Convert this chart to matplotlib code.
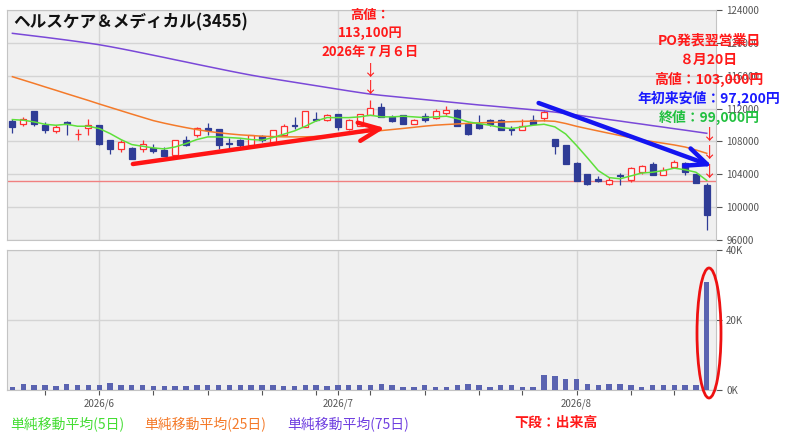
import matplotlib
matplotlib.use('Agg')
import matplotlib.pyplot as plt
from matplotlib.patches import Ellipse
import numpy as np
import pandas as pd

plt.rcParams['font.family'] = ['Noto Sans CJK JP', 'DejaVu Sans']

# ---------------- data ----------------
title = 'ヘルスケア＆メディカル(3455)'
holidays = ['2026-07-20', '2026-08-11']
dates = [d for d in pd.bdate_range('2026-05-20', '2026-08-20') if d.strftime('%Y-%m-%d') not in holidays]

opens = [110460, 110090, 111680, 109970, 109240, 110380, 108880, 109610, 109970, 108230,
         107050, 107170, 107090, 107210, 106930, 106400, 108140, 108790, 109650, 109480,
         107820, 108230, 107620, 108710, 107980, 108790, 109970, 109770, 110780, 110580,
         111310, 109570, 109930, 111270, 112160, 110990, 111190, 110170, 111070, 110900,
         111470, 111880, 110090, 110090, 110580, 110580, 109570, 109440, 110580, 110860,
         108350, 107620, 105430, 104090, 103480, 102790, 103960, 103300, 104290, 105220,
         103960, 104900, 105390, 104090, 102700]
highs = [110780, 110990, 111680, 110380, 109970, 110460, 109570, 110740, 109970, 108230,
         108140, 107330, 108140, 107740, 107330, 108140, 108670, 109770, 110300, 109480,
         108470, 108350, 108790, 108790, 109440, 110090, 110990, 111680, 111590, 111390,
         111310, 110780, 111390, 113100, 112730, 111190, 111190, 110700, 111470, 112000,
         112280, 112000, 110380, 111190, 110780, 110780, 109850, 110780, 111190, 111800,
         108350, 107620, 105510, 104090, 103760, 103680, 104170, 104900, 105100, 105510,
         104900, 105710, 105510, 104090, 103000]
lows = [109080, 109930, 109930, 109040, 109040, 108790, 108140, 108840, 107580, 106440,
        106720, 105870, 106720, 106640, 106240, 106400, 107460, 108550, 108750, 107050,
        107130, 107330, 107330, 107940, 107980, 108790, 109570, 109770, 110460, 110500,
        109360, 109360, 109930, 111270, 110990, 110380, 110090, 110090, 110380, 110780,
        111190, 109850, 108750, 109570, 109850, 109360, 108840, 109360, 110090, 110500,
        106520, 105300, 103150, 102670, 103070, 102750, 102670, 103070, 104090, 103960,
        103880, 104820, 103880, 102950, 97200]
closes = [109770, 110700, 110170, 109360, 109770, 110090, 108960, 110010, 107660, 107090,
          107940, 105870, 107740, 106850, 106240, 108140, 107620, 109610, 109360, 107620,
          107700, 107540, 108790, 108140, 109440, 109930, 109850, 111680, 110660, 111270,
          109770, 110580, 111390, 112120, 110990, 110500, 110090, 110580, 110580, 111680,
          111880, 109850, 108880, 109650, 110170, 109360, 109440, 109850, 110170, 111590,
          107460, 105300, 103150, 102870, 103150, 103270, 103840, 104780, 104980, 103960,
          104490, 105510, 104290, 102950, 99000]
volumes = [860, 1700, 1250, 1250, 960, 1700, 1400, 1250, 1400, 1800,
           1400, 1400, 1250, 960, 960, 960, 960, 1400, 1400, 1250,
           1250, 1250, 1400, 1250, 1250, 960, 960, 1250, 1400, 960,
           1400, 1400, 1250, 1150, 1440, 1150, 860, 860, 1150, 860,
           860, 1150, 1440, 1150, 580, 1150, 1150, 860, 860, 4300,
           3750, 2900, 2900, 1440, 1150, 1440, 1440, 1150, 860, 1150,
           1150, 1150, 1150, 1150, 30800]
ma5 = [110660, 110580, 110380, 110090, 109970, 110090, 109850, 109850, 109570, 108960,
       108230, 107620, 107410, 107210, 107090, 107330, 107740, 108230, 108550, 108550,
       108470, 108390, 108230, 108150, 108470, 108880, 109280, 109850, 110500, 110900,
       110900, 110900, 110990, 111190, 110990, 110990, 111070, 110990, 110900, 110990,
       111070, 110780, 110380, 110170, 109970, 109690, 109570, 109770, 109970, 110090,
       109770, 108900, 107500, 106000, 104450, 103600, 103450, 103800, 104150, 104250,
       104450, 104750, 104550, 104250, 103250]
ma25 = [115880, 115470, 115060, 114640, 114230, 113810, 113400, 112990, 112560, 112150,
        111740, 111330, 110930, 110530, 110220, 109940, 109680, 109440, 109230, 109060,
        108920, 108800, 108720, 108640, 108590, 108560, 108550, 108560, 108600, 108680,
        108800, 108930, 109060, 109180, 109320, 109450, 109580, 109720, 109860, 109980,
        110060, 110130, 110200, 110260, 110310, 110360, 110400, 110440, 110480, 110510,
        110450, 110180, 109840, 109550, 109270, 108990, 108720, 108450, 108190, 107980,
        107780, 107570, 107320, 106960, 106550]
ma75 = [121160, 121000, 120840, 120680, 120510, 120340, 120160, 119970, 119770, 119540,
        119290, 119030, 118760, 118490, 118220, 117940, 117670, 117390, 117120, 116850,
        116580, 116320, 116070, 115840, 115620, 115410, 115200, 114990, 114780, 114570,
        114360, 114150, 113950, 113760, 113610, 113480, 113350, 113220, 113090, 112960,
        112830, 112700, 112570, 112440, 112330, 112210, 112090, 111970, 111850, 111720,
        111570, 111400, 111220, 111030, 110850, 110660, 110480, 110290, 110110, 109920,
        109740, 109550, 109370, 109180, 108990]
ref_line = 103200
price_ticks = [96000, 100000, 104000, 108000, 112000, 116000, 120000, 124000]
vol_ticks = [0, 20000, 40000]
vol_tick_labels = ['0K', '20K', '40K']
legend_labels = ['単純移動平均(5日)', '単純移動平均(25日)', '単純移動平均(75日)']

# ---------------- derived ----------------
n = len(closes)
k = np.arange(n)
o = np.array(opens); c = np.array(closes); h = np.array(highs); l = np.array(lows)
up = c >= o
month_pos = [i for i in range(1, n) if dates[i].month != dates[i - 1].month]
month_labels = [dates[i].strftime('%Y/') + str(dates[i].month) for i in month_pos]
week_pos = [i for i in range(1, n) if dates[i].isocalendar()[1] != dates[i - 1].isocalendar()[1]]

W, H = 803, 442
fig = plt.figure(figsize=(W / 100, H / 100), dpi=100)
fx = lambda x: x / W
fy = lambda y: 1 - y / H

BG = '#f0f0f0'; GRID = '#d4d4d4'; EDGE = '#c4c4c4'; TXT = '#555555'
DOWN = '#2f3c96'; UPC = '#ff3030'

ax = fig.add_axes([fx(7), fy(240), (716 - 7) / W, (240 - 10) / H])
axv = fig.add_axes([fx(7), fy(389.5), (716 - 7) / W, (389.5 - 250) / H])

for a in (ax, axv):
    a.set_facecolor(BG)
    for s in a.spines.values():
        s.set_color(EDGE)
    a.set_xlim(-0.5, 64.85)
    a.yaxis.tick_right()
    a.tick_params(axis='y', labelsize=7, colors=TXT, length=4.3, pad=3, width=0.8)
    a.set_xticks(month_pos)
    a.grid(True, color=GRID, lw=1.0)
    a.set_axisbelow(True)

# price panel
ax.set_ylim(96000, 124000)
ax.set_yticks(price_ticks)
ax.set_yticklabels([str(v) for v in price_ticks])
ax.tick_params(axis='x', length=0, labelbottom=False)

ax.axhline(ref_line, color='#f08080', lw=1.0, zorder=1)

wick_col = np.where(up, UPC, DOWN)
ax.vlines(k, l, h, colors=wick_col, lw=0.9, zorder=2)
body_bot = np.minimum(o, c)
body_h = np.maximum(np.abs(c - o), 60)
ax.bar(k[up], body_h[up], bottom=body_bot[up], width=0.55, facecolor='#fafafa',
       edgecolor=UPC, lw=0.9, zorder=3)
ax.bar(k[~up], body_h[~up], bottom=body_bot[~up], width=0.55, facecolor=DOWN,
       edgecolor=DOWN, lw=0.9, zorder=3)

ax.plot(k, ma75, color='#7a48d8', lw=1.1, zorder=4)
ax.plot(k, ma25, color='#f47a2a', lw=1.1, zorder=4)
ax.plot(k, ma5, color='#5ee03a', lw=1.1, zorder=4)

# arrows on price panel
ax.annotate('', xy=(34.35, 109630), xytext=(11.1, 105250),
            arrowprops=dict(arrowstyle='->,head_length=0.75,head_width=0.33', color='#ff1414',
                            lw=3.2, mutation_scale=20, shrinkA=0, shrinkB=0), zorder=6)
ax.annotate('', xy=(64.5, 105000), xytext=(48.5, 112680),
            arrowprops=dict(arrowstyle='->,head_length=0.75,head_width=0.33', color='#1414f0',
                            lw=3.2, mutation_scale=20, shrinkA=0, shrinkB=0), zorder=6)

# volume panel
axv.set_ylim(0, 40000)
axv.set_yticks(vol_ticks)
axv.set_yticklabels(vol_tick_labels)
axv.bar(k, volumes, width=0.5, color='#5a63b0', zorder=3)
axv.set_xticks(week_pos, minor=True)
axv.set_xticklabels(month_labels)
axv.tick_params(axis='x', which='both', labelsize=7, colors=TXT, length=3.6, pad=3, width=0.8)

# texts
fig.text(fx(13), fy(22), title, fontsize=12, fontweight='bold', va='center', ha='left', color='#111111')

RED = '#ff1a1a'
for txt, yy in [('高値：', 15), ('113,100円', 33.5), ('2026年７月６日', 52)]:
    fig.text(fx(370), fy(yy), txt, fontsize=9.5, fontweight='bold', color=RED, ha='center', va='center')
for yy in [71, 88]:
    fig.text(fx(371), fy(yy), '↓', fontsize=11, color=RED, ha='center', va='center')

right_notes = [('PO発表翌営業日', 41, RED), ('８月20日', 60, RED), ('高値：103,000円', 79, RED),
               ('年初来安値：97,200円', 98, '#1a1aff'), ('終値：99,000円', 117, '#22c040')]
for txt, yy, col in right_notes:
    fig.text(fx(709), fy(yy), txt, fontsize=10, fontweight='bold', color=col, ha='center', va='center',
             zorder=10)
for yy in [135, 153, 172]:
    fig.text(fx(710), fy(yy), '↓', fontsize=11, color=RED, ha='center', va='center')

leg_cols = ['#44dd33', '#f47a2a', '#7040e0']
for txt, xx, col in zip(legend_labels, [10, 144, 287], leg_cols):
    fig.text(fx(xx), fy(424), txt, fontsize=10, color=col, ha='left', va='center')
fig.text(fx(514), fy(423), '下段：出来高', fontsize=10, fontweight='bold', color=RED, ha='left', va='center')

ell = Ellipse((fx(709), fy(333)), 24 / W, 130 / H, transform=fig.transFigure,
              fill=False, edgecolor='#ee1111', lw=2.0)
fig.add_artist(ell)

fig.savefig('out.png', dpi=100, facecolor='white')
